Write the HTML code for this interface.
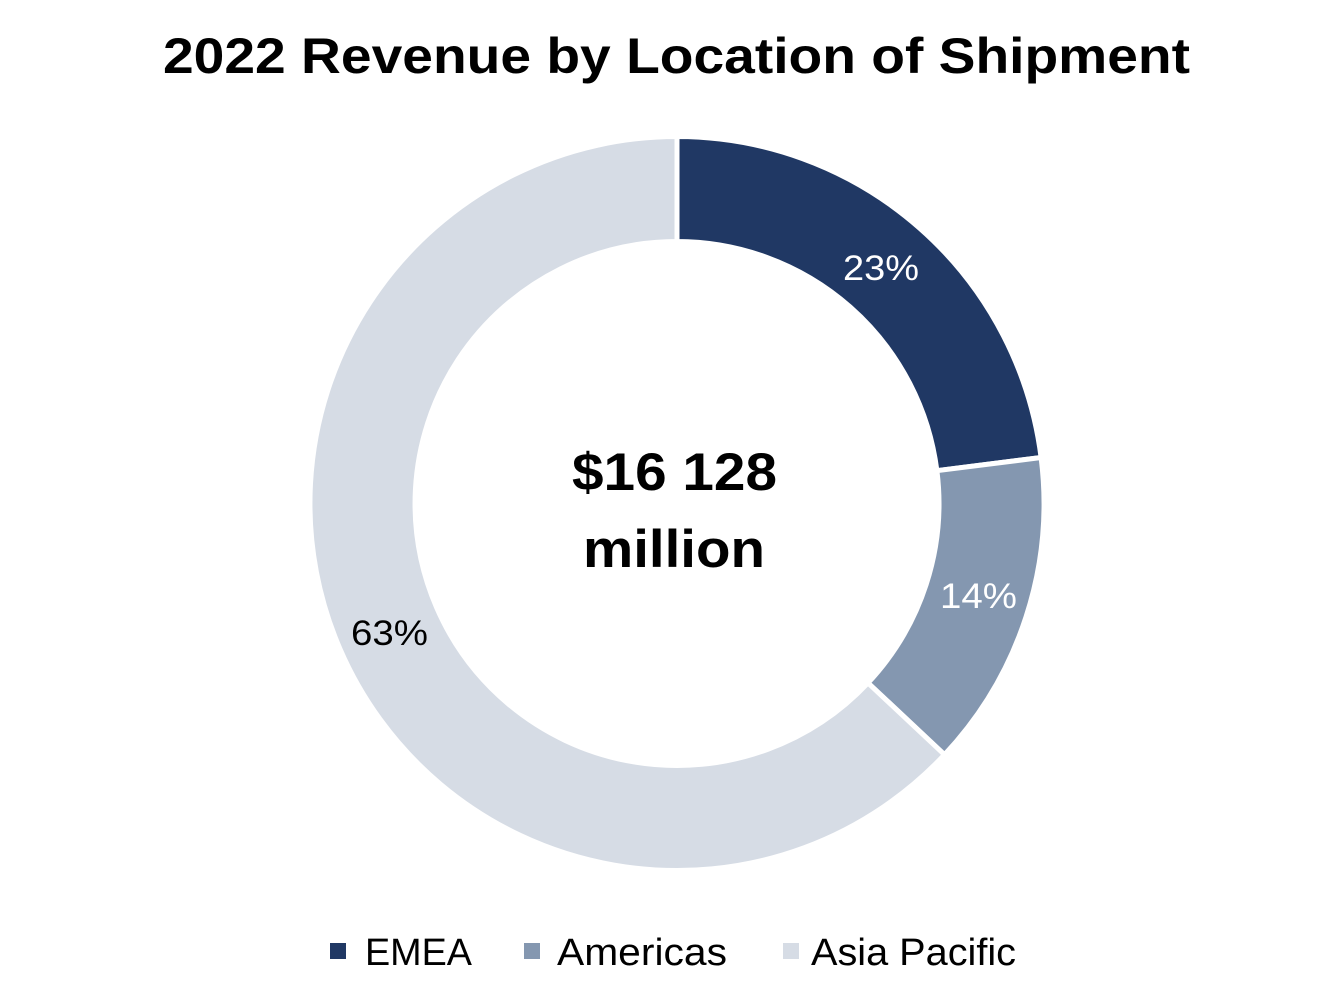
<!DOCTYPE html>
<html><head><style>
body{margin:0;width:1340px;height:998px;background:#fff;overflow:hidden;font-family:"Liberation Sans",sans-serif}
</style></head><body>
<svg width="1340" height="998" xmlns="http://www.w3.org/2000/svg" style="font-family:'Liberation Sans',sans-serif">
<text x="163" y="73" font-size="50" font-weight="bold" textLength="1027" lengthAdjust="spacingAndGlyphs">2022 Revenue by Location of Shipment</text>
<g stroke="#fff" stroke-width="5" stroke-linejoin="miter">
<path d="M677,136.5 A367,367 0 0 1 1041.1,457.5 L936.9,470.7 A262,262 0 0 0 677,241.5 Z" fill="#203864"/>
<path d="M1041.1,457.5 A367,367 0 0 1 944.5,754.7 L868,682.9 A262,262 0 0 0 936.9,470.7 Z" fill="#8497B0"/>
<path d="M944.5,754.7 A367,367 0 1 1 677,136.5 L677,241.5 A262,262 0 1 0 868,682.9 Z" fill="#D6DCE5"/>
</g>
<text x="843" y="280" font-size="35" fill="#fff" textLength="76" lengthAdjust="spacingAndGlyphs">23%</text>
<text x="940" y="608" font-size="35" fill="#fff" textLength="77" lengthAdjust="spacingAndGlyphs">14%</text>
<text x="351" y="645" font-size="35" fill="#000" textLength="77" lengthAdjust="spacingAndGlyphs">63%</text>
<text x="572" y="490" font-size="53" font-weight="bold" textLength="205" lengthAdjust="spacingAndGlyphs">$16 128</text>
<text x="583" y="567" font-size="53" font-weight="bold" textLength="182" lengthAdjust="spacingAndGlyphs">million</text>
<rect x="330" y="943" width="16" height="16" fill="#203864"/>
<text x="365" y="965" font-size="38" textLength="107" lengthAdjust="spacingAndGlyphs">EMEA</text>
<rect x="524" y="943" width="16" height="16" fill="#8497B0"/>
<text x="557" y="965" font-size="38" textLength="170" lengthAdjust="spacingAndGlyphs">Americas</text>
<rect x="783" y="943" width="16" height="16" fill="#D6DCE5"/>
<text x="811" y="965" font-size="38" textLength="205" lengthAdjust="spacingAndGlyphs">Asia Pacific</text>
</svg>
</body></html>
